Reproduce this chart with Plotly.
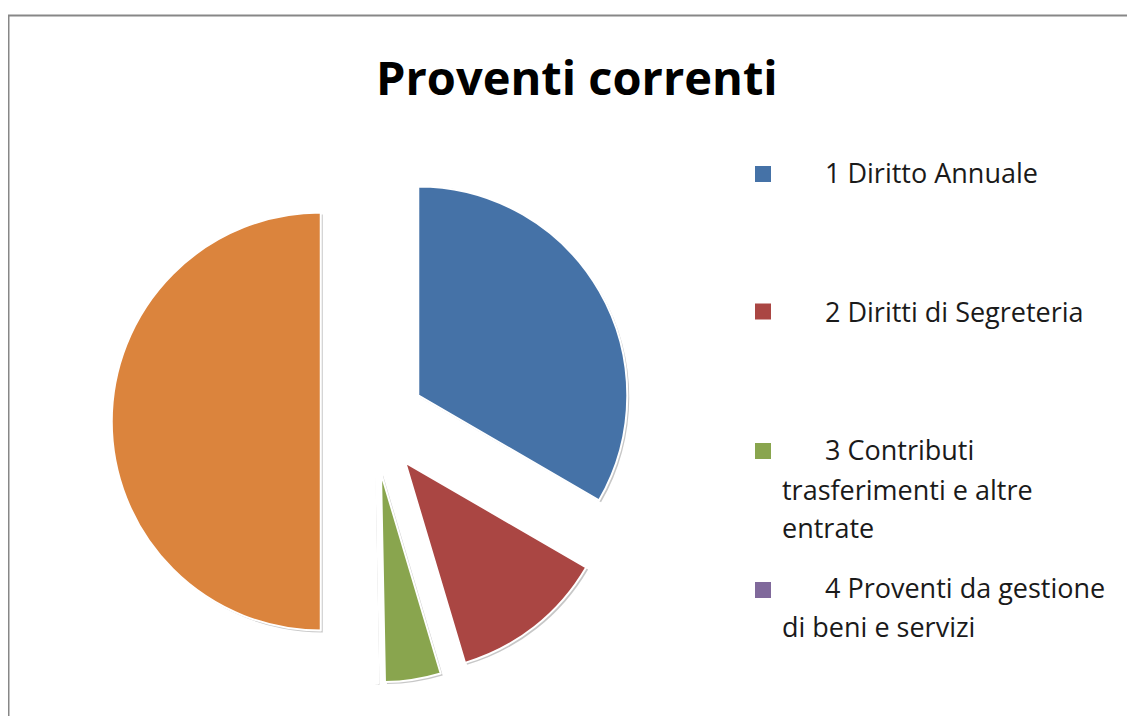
import plotly.graph_objects as go

W, H = 1135, 716
OFF = 8  # page body margin offset of the figure inside the window

# ---- data ----
labels = [
    "1 Diritto Annuale",
    "2 Diritti di Segreteria",
    "3 Contributi trasferimenti e altre entrate",
    "4 Proventi da gestione di beni e servizi",
    "Totale Proventi correnti",
]
values = [33.3, 12.0, 4.3, 0.3, 49.9]
colors = ["#4572A7", "#AA4643", "#89A54E", "#80699B", "#DB843D"]
# legend shows only the first four entries (as in the reference); wrapped lines
legend_lines = [
    ["1 Diritto Annuale"],
    ["2 Diritti di Segreteria"],
    ["3 Contributi", "trasferimenti e altre", "entrate"],
    ["4 Proventi da gestione", "di beni e servizi"],
]
title_text = "Proventi correnti"

# ---- layout helpers (window pixel -> paper) ----
def px(x):
    return (x - OFF) / W

def py(y):
    return 1 - (y - OFF) / H

cx, cy, r, pull = 373, 421.5, 209, 0.25
half = r * (1 + pull)

def pie(dx, dy, cols, line_w, name, hover):
    return go.Pie(
        labels=labels,
        values=values,
        sort=False,
        direction="clockwise",
        rotation=0,
        pull=[pull] * len(values),
        marker=dict(colors=cols, line=dict(color="white", width=line_w)),
        textinfo="none",
        hoverinfo="label+percent" if hover else "skip",
        showlegend=False,
        name=name,
        domain=dict(x=[px(cx + dx - half), px(cx + dx + half)],
                    y=[py(cy + dy + half), py(cy + dy - half)]),
    )

fig = go.Figure()
# soft shadow underneath
fig.add_trace(pie(2, 2, ["rgba(0,0,0,0.22)"] * len(values), 0, "shadow", False))
fig.add_trace(pie(0, 0, colors, [2, 2, 2, 4, 2], "Proventi correnti", True))

shapes = [
    dict(type="rect", xref="paper", yref="paper",
         x0=px(8.5), x1=px(W + 40), y0=py(15.5), y1=py(H + 40),
         line=dict(color="#878787", width=2), fillcolor="rgba(0,0,0,0)", layer="below"),
]
annotations = [
    dict(text="<b>%s</b>" % title_text, x=px(576.5), y=py(95 - 0.388 * 47), xref="paper", yref="paper",
         xanchor="center", yanchor="middle", showarrow=False,
         font=dict(family="Open Sans", size=47, color="#000000")),
]

fs = 27
marker_cy = [174, 311.5, 451, 590]
baselines = [[183], [322], [460, 500, 538], [598, 637]]
for i, lines in enumerate(legend_lines):
    shapes.append(dict(type="rect", xref="paper", yref="paper",
                       x0=px(755), x1=px(771), y0=py(marker_cy[i] + 8), y1=py(marker_cy[i] - 8),
                       line=dict(width=0), fillcolor=colors[i]))
    for j, line in enumerate(lines):
        annotations.append(dict(
            text=line, x=px(823 if j == 0 else 780), y=py(baselines[i][j] - 0.38 * fs),
            xref="paper", yref="paper", xanchor="left", yanchor="middle", showarrow=False,
            font=dict(family="Open Sans", size=fs, color="#1a1a1a")))

fig.update_layout(
    width=W, height=H,
    margin=dict(l=0, r=0, t=0, b=0),
    paper_bgcolor="white",
    plot_bgcolor="white",
    shapes=shapes,
    annotations=annotations,
)

fig.write_html("out.html")
